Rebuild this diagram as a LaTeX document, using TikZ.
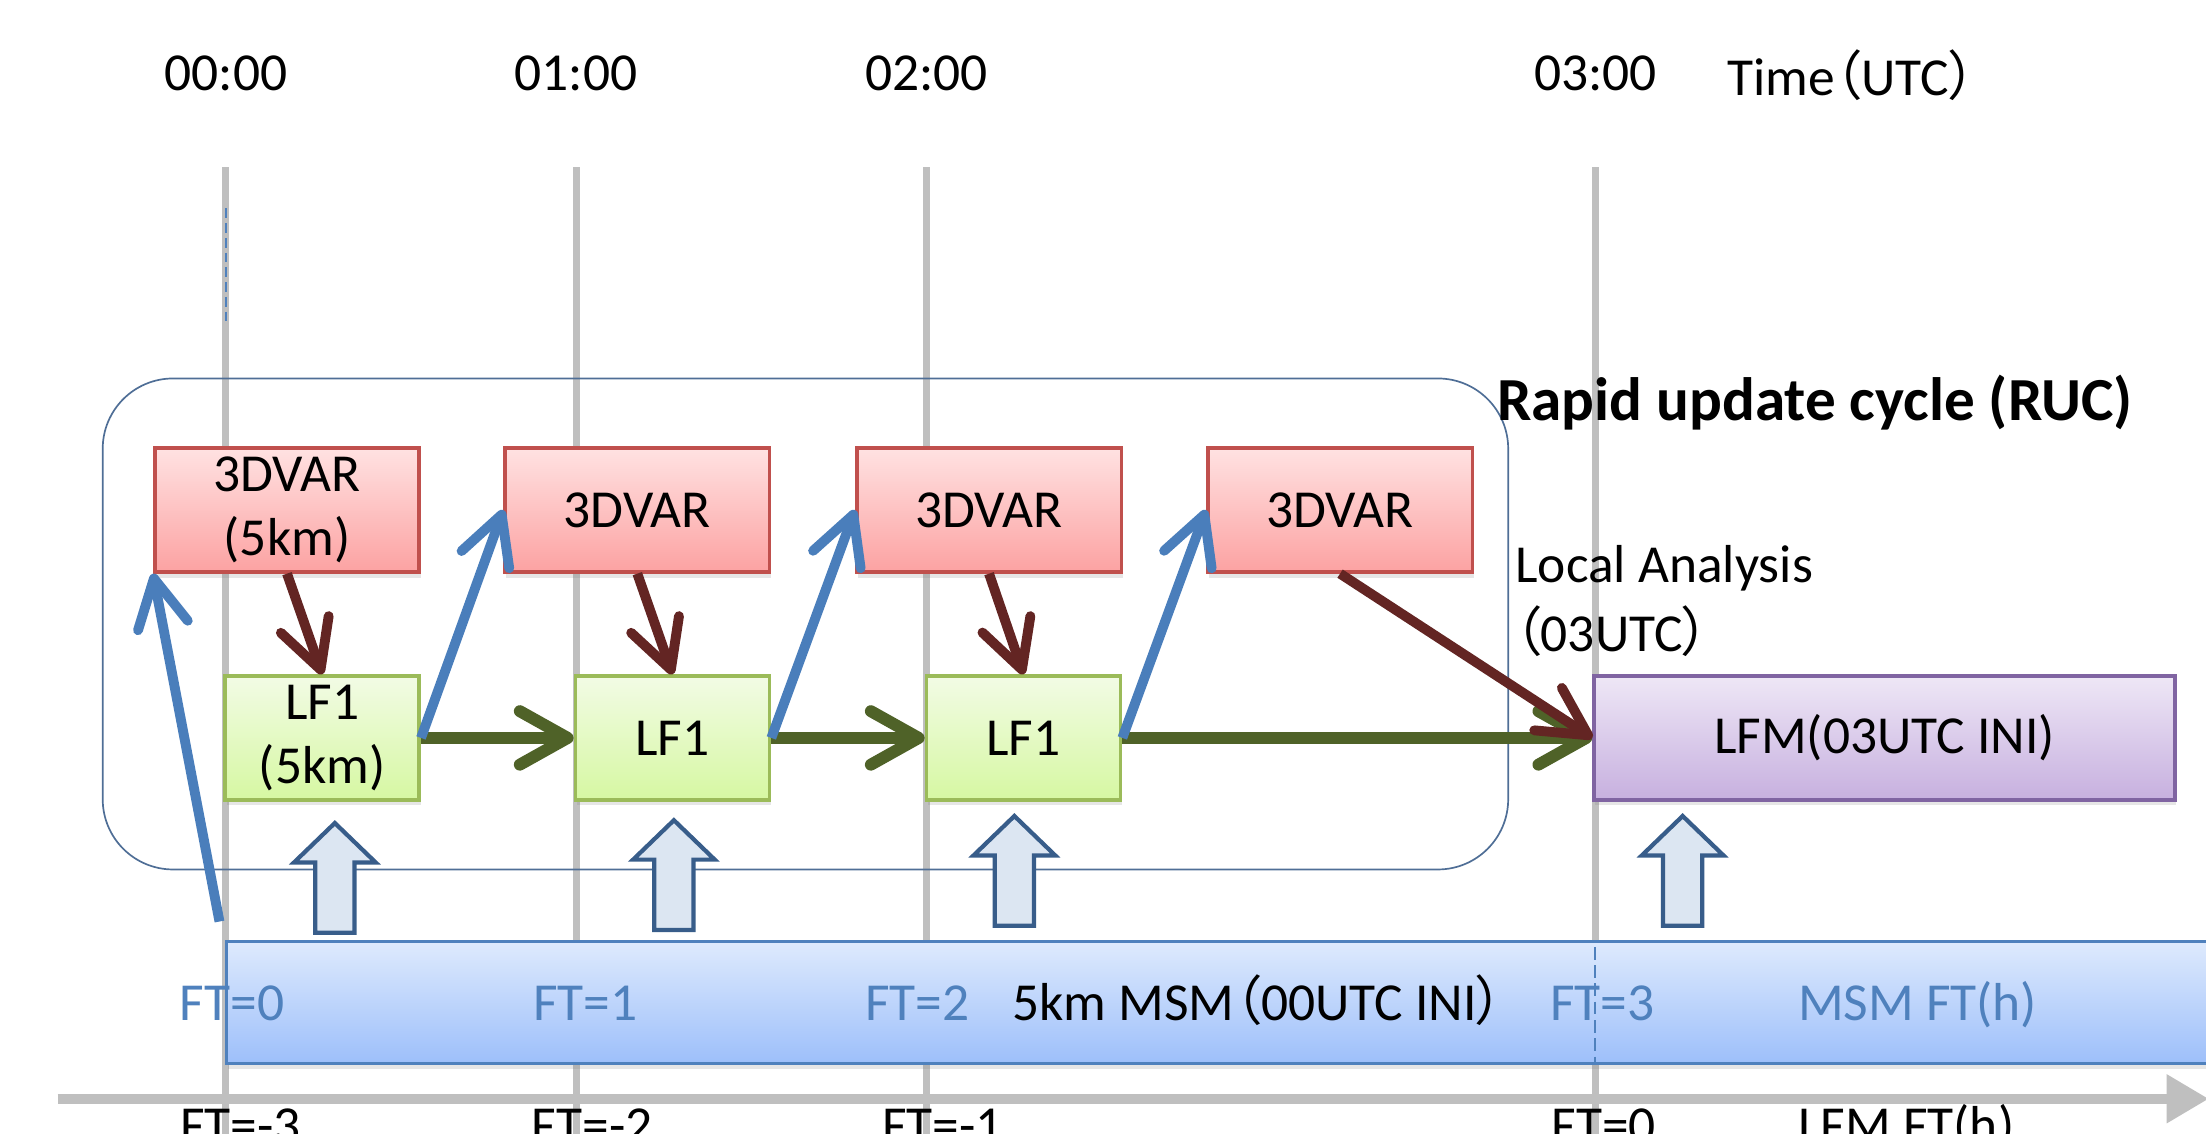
\documentclass[tikz,border=0pt]{standalone}
\usepackage{fontspec}
\setmainfont{Carlito}
\newfontfamily\cjk[RawFeature=+palt]{Noto Sans CJK JP}
\usepackage{tikz}
\usetikzlibrary{calc,arrows.meta,shadows}
\definecolor{gridgray}{HTML}{BFBFBF}
\definecolor{msmblue}{HTML}{4F81BD}
\definecolor{guessblue}{HTML}{4A7EBB}
\definecolor{framegray}{HTML}{4F6E96}
\definecolor{varred}{HTML}{C0504D}
\definecolor{vartop}{HTML}{FFE2E2}
\definecolor{varbot}{HTML}{FCA2A2}
\definecolor{lfgreen}{HTML}{9BBB59}
\definecolor{lftop}{HTML}{F2FBE5}
\definecolor{lfbot}{HTML}{D6F8A2}
\definecolor{lfmpurple}{HTML}{8064A2}
\definecolor{lfmtop}{HTML}{EEE7F6}
\definecolor{lfmbot}{HTML}{C7B0DF}
\definecolor{msmtop}{HTML}{DEEAFD}
\definecolor{msmbot}{HTML}{9DBFFA}
\definecolor{flowgreen}{HTML}{4F6228}
\definecolor{anared}{HTML}{632523}
\definecolor{feedfill}{HTML}{DCE6F2}
\definecolor{feeddraw}{HTML}{385D8A}
\newcommand\jpLeft{{\cjk （}}
\newcommand\jpRight{{\cjk ）}}
\tikzset{
  gridline/.style={draw=gridgray,line width=5pt},
  timeaxis/.style={draw=gridgray,line width=7pt,-{Triangle[length=30pt,width=33pt]}},
  hourmark/.style={draw=msmblue,line width=1.5pt,dash pattern=on 7pt off 3.5pt},
  rucframe/.style={draw=framegray,line width=1.2pt,rounded corners=50pt,
    minimum width=999pt,minimum height=349pt},
  procbox/.style={line width=2.5pt,align=center,inner sep=2pt,minimum height=88pt,
    drop shadow={shadow xshift=1pt,shadow yshift=-4pt,opacity=0.2}},
  varbox/.style={procbox,draw=varred,top color=vartop,bottom color=varbot,minimum width=188pt},
  lfbox/.style={procbox,draw=lfgreen,top color=lftop,bottom color=lfbot,minimum width=138pt},
  lfmbox/.style={procbox,draw=lfmpurple,top color=lfmtop,bottom color=lfmbot,minimum width=413pt},
  msmbar/.style={draw=msmblue,line width=2pt,top color=msmtop,bottom color=msmbot,inner sep=0pt,
    minimum width=1460pt,minimum height=87pt,
    drop shadow={shadow xshift=1pt,shadow yshift=-4pt,opacity=0.2}},
  ftlabel/.style={text=msmblue},
  feedarrow/.style={draw=feeddraw,fill=feedfill,line width=3pt,line join=miter},
  flowarrow/.style={draw=flowgreen,line width=8.5pt,-{Straight Barb[round,length=34pt,width=38pt]}},
  guessarrow/.style={draw=guessblue,line width=7pt,-{Straight Barb[round,length=34pt,width=36pt]}},
  anaarrow/.style={draw=anared,line width=7pt,-{Straight Barb[round,length=34pt,width=36pt]}},
}

\begin{document}
\begin{tikzpicture}[x=1pt,y=-1pt,font=\fontsize{38}{45}\selectfont]
  \useasboundingbox (0,0) rectangle (1568,806);
  \clip (0,0) rectangle (1568,806);

  %% Hour lines and time labels
  \foreach \t/\x in {00/160.5, 01/409.5, 02/658.5, 03/1134}
  {
    \coordinate (GT\t) at (\x,119);
    \coordinate (GB\t) at (\x,810);
    \draw[gridline] (GT\t) -- (GB\t);
    \node[anchor=base] (TIME\t) at (\x,64) {\t:00};
  }
  \node[anchor=base] (TIMEUTC) at (1316,68) {Time\jpLeft UTC\jpRight};
  \coordinate (HMtop) at (160.5,148);
  \coordinate (HMbot) at (160.5,231);
  \draw[hourmark] (HMtop) -- (HMbot);

  %% Forecast time axis
  \coordinate (AXL) at (41,781);
  \coordinate (AXR) at (1570,781);
  \draw[timeaxis] (AXL) -- (AXR);

  %% Rapid update cycle frame
  \node[rucframe] (RUC) at (572.5,443.5) {};
  \node[anchor=base west,inner sep=0pt,font=\fontsize{43.5}{50}\selectfont\bfseries]
    (RUCTITLE) at (1064,299) {Rapid update cycle (RUC)};

  %% 3DVAR and LF1 boxes
  \foreach \i/\x/\txt in {1/204/{3DVAR\\(5km)}, 2/453/3DVAR, 3/703/3DVAR, 4/952.5/3DVAR}
    \node[varbox] (VAR\i) at (\x,362.5) {\txt};
  \foreach \i/\x/\txt in {1/229/{LF1\\(5km)}, 2/478/LF1, 3/727.5/LF1}
    \node[lfbox] (LF\i) at (\x,524.5) {\txt};
  \node[lfmbox] (LFM) at (1339.5,524.5) {LFM(03UTC INI)};
  \node[anchor=base west,inner sep=0pt] (LOCAL) at (1077,414) {Local Analysis};
  \node[anchor=base west,inner sep=0pt] (LOCALT) at (1076,463) {\jpLeft 03UTC\jpRight};

  %% MSM bar
  \node[msmbar,anchor=north west] (MSM) at (160,668) {};
  \coordinate (FTMtop) at (1134,673);
  \coordinate (FTMbot) at (1134,755);
  \draw[hourmark,dash pattern=on 9pt off 4pt] (FTMtop) -- (FTMbot);
  \foreach \x/\ft in {165/0, 416/1, 652/2, 1139/3}
    \node[ftlabel,anchor=base] (MSMFT\ft) at (\x,725) {FT=\ft};
  \node[ftlabel,anchor=base] (MSMUNIT) at (1363,725) {MSM FT(h)};
  \node[anchor=base] (MSMNAME) at (894,725) {5km MSM\jpLeft 00UTC INI\jpRight};

  %% LFM forecast time labels
  \foreach \x/\ft in {171/-3, 421/-2, 670/-1, 1140/0}
    \node[anchor=base] (LFMFT\ft) at (\x,813) {FT=\ft};
  \node[anchor=base] (LFMUNIT) at (1355,813) {LFM FT(h)};

  %% Boundary input from MSM
  \foreach \x/\y in {238/663, 479/661, 721/658, 1196/658}
    \draw[feedarrow] (\x-14,\y) -- ++(0,-50) -- ++(-15,0) -- (\x,\y-78)
      -- (\x+29,\y-50) -- ++(-15,0) -- (\x+14,\y) -- cycle;

  %% Forecast chain
  \draw[flowarrow] (LF1.east) -- (LF2.west);
  \draw[flowarrow] (LF2.east) -- (LF3.west);
  \draw[flowarrow] (LF3.east) -- (LFM.west);

  %% First guess for next analysis
  \coordinate (MSMGUESS) at ($(MSM.north west)+(-4,-13)$);
  \draw[guessarrow] (MSMGUESS) -- (VAR1.south west);
  \foreach \i/\j in {1/2, 2/3, 3/4}
    \draw[guessarrow] (LF\i.east) -- (VAR\j.west);

  %% Analysis to forecast
  \foreach \i in {1,2,3}
    \draw[anaarrow] (VAR\i.south) -- (LF\i.north);
  \draw[anaarrow] (VAR4.south) -- (LFM.west);

\end{tikzpicture}
\end{document}
